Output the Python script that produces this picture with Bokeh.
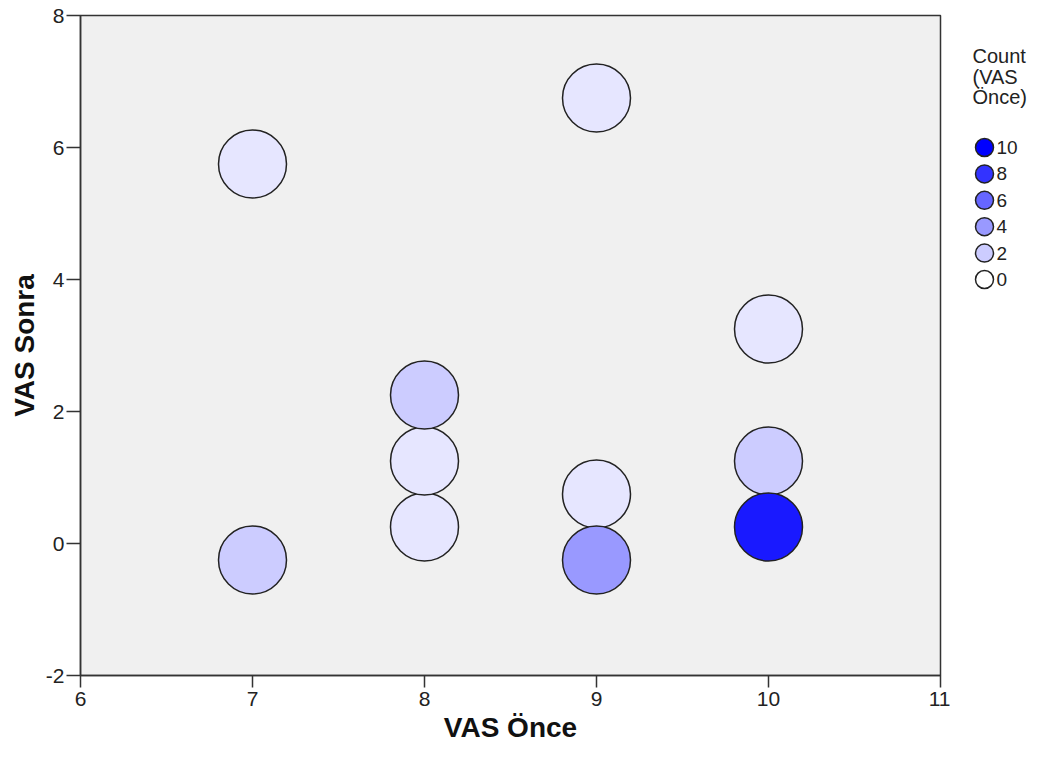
from bokeh.plotting import figure
from bokeh.layouts import row
from bokeh.models import Range1d, FixedTicker, LinearColorMapper, ColumnDataSource
from bokeh.transform import transform
from bokeh.embed import file_html
from bokeh.resources import INLINE
from bokeh.core.properties import value

# ---- data ----
vas_once = [7, 7, 8, 8, 8, 9, 9, 9, 10, 10, 10]
vas_sonra = [5.75, -0.25, 0.25, 1.25, 2.25, 6.75, 0.75, -0.25, 3.25, 1.25, 0.25]
counts = [1, 2, 1, 1, 2, 1, 1, 4, 1, 2, 9]
x_ticks = [6, 7, 8, 9, 10, 11]
y_ticks = [-2, 0, 2, 4, 6, 8]
legend_values = [10, 8, 6, 4, 2, 0]
legend_title = ["Count", "(VAS", "Önce)"]

FONT = "Liberation Sans"
H = 752
TOP, BOTTOM = 15, 77
palette = ["#%02x%02xff" % (v, v) for v in range(255, -1, -1)]
mapper = LinearColorMapper(palette=palette, low=0, high=10)

# ---- main plot ----
p = figure(width=950, height=H, x_range=Range1d(6, 11), y_range=Range1d(-2, 8),
           output_backend="svg", toolbar_location=None,
           min_border_left=80, min_border_right=10, min_border_top=TOP, min_border_bottom=BOTTOM)
p.background_fill_color = "#F0F0F0"
p.border_fill_color = "white"
p.outline_line_color = "#333333"
p.outline_line_width = 1.5
p.grid.visible = False

src = ColumnDataSource(dict(x=vas_once, y=vas_sonra, c=counts))
p.scatter("x", "y", source=src, size=68, fill_color=transform("c", mapper),
          line_color="#222222", line_width=1.5)

p.xaxis.ticker = FixedTicker(ticks=x_ticks)
p.yaxis.ticker = FixedTicker(ticks=y_ticks)
p.yaxis.major_label_overrides = {t: str(t) for t in y_ticks}
p.xaxis.major_label_overrides = {t: str(t) for t in x_ticks}
p.xaxis.axis_label = "VAS Önce"
p.yaxis.axis_label = "VAS Sonra"
for ax in (p.xaxis, p.yaxis):
    ax.minor_tick_line_color = None
    ax.major_tick_in = 0
    ax.major_tick_line_color = "#333333"
    ax.major_tick_line_width = 1.5
    ax.axis_line_color = "#333333"
    ax.axis_line_width = 1.5
    ax.major_label_text_font = FONT
    ax.major_label_text_font_size = "21px"
    ax.major_label_text_color = "#222222"
    ax.axis_label_text_font = FONT
    ax.axis_label_text_font_size = "28px"
    ax.axis_label_text_font_style = "bold"
    ax.axis_label_text_color = "#111111"
p.xaxis.major_tick_out = 12
p.yaxis.major_tick_out = 14
p.xaxis.major_label_standoff = 4
p.xaxis.axis_label_standoff = 3
p.yaxis.major_label_standoff = 2
p.yaxis.axis_label_standoff = 3
p.yaxis.major_label_orientation = "horizontal"

# ---- legend panel (shares the vertical scale of the plot) ----
lg = figure(width=78, height=H, x_range=Range1d(0, 78), y_range=p.y_range,
            output_backend="svg", toolbar_location=None,
            x_axis_type=None, y_axis_type=None,
            min_border_left=0, min_border_right=0,
            min_border_top=TOP, min_border_bottom=BOTTOM)
lg.outline_line_color = None
lg.grid.visible = False
lg.background_fill_color = "white"
lg.border_fill_color = "white"

ty = [7.39 - 0.315 * i for i in range(len(legend_title))]
lg.text(x=[22] * len(legend_title), y=ty, text=legend_title, text_font=value(FONT),
        text_font_size="20px", text_baseline="middle", text_align="left", text_color="#222222")

ly = [6.0 - 0.4 * i for i in range(len(legend_values))]
lsrc = ColumnDataSource(dict(cx=[34] * len(legend_values), tx=[46] * len(legend_values),
                             y=ly, v=legend_values, t=[str(v) for v in legend_values]))
lg.scatter("cx", "y", source=lsrc, size=18, fill_color=transform("v", mapper),
           line_color="#222222", line_width=1.5)
lg.text("tx", "y", text="t", source=lsrc,
        text_font=value(FONT), text_font_size="19px", text_baseline="middle",
        text_align="left", text_color="#222222")

layout = row(p, lg)
open("out.html", "w").write(file_html(layout, INLINE))
